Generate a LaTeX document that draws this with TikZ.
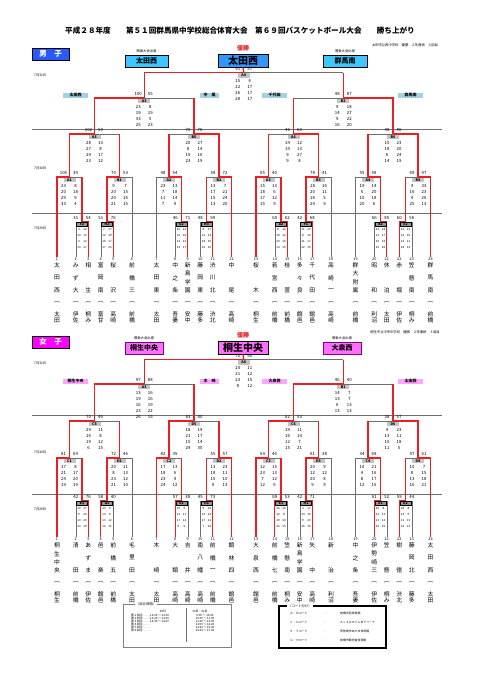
\documentclass[tikz,border=0pt]{standalone}
\usepackage{fontspec}
\setmainfont{Noto Sans CJK JP}
\definecolor{winred}{RGB}{235,30,35}
\definecolor{lgray}{RGB}{110,110,110}
\definecolor{labgray}{RGB}{195,195,195}
\definecolor{rgray}{RGB}{150,150,150}
\definecolor{boyhead}{RGB}{40,90,255}
\definecolor{boykan}{RGB}{60,200,255}
\definecolor{boychamp}{RGB}{50,150,255}
\definecolor{boysemi}{RGB}{160,210,225}
\definecolor{girlhead}{RGB}{255,0,255}
\definecolor{girlkan}{RGB}{255,110,255}
\definecolor{girlsemi}{RGB}{255,165,255}
\tikzset{
  win/.style={draw=winred,line width=1.3pt,line join=miter},
  los/.style={draw=lgray,line width=0.5pt},
  sepl/.style={draw=lgray,line width=0.6pt},
  sc/.style={font=\fontsize{4.3}{4.3}\selectfont,inner sep=0pt},
  tn/.style={font=\fontsize{2.9}{2.9}\selectfont,inner sep=0pt},
  lab/.style={fill=labgray,font=\fontsize{3.6}{3.6}\selectfont\bfseries,inner sep=0pt,minimum width=12pt,minimum height=4.6pt},
  labs/.style={fill=rgray,draw=black,line width=0.3pt,font=\fontsize{3.4}{3.4}\selectfont\bfseries,inner sep=0pt,minimum width=11pt,minimum height=4.6pt},
  nm/.style={font=\fontsize{5.8}{5.8}\selectfont,inner sep=0pt},
  num/.style={font=\fontsize{3.8}{3.8}\selectfont,inner sep=0pt},
  datel/.style={font=\fontsize{3.3}{3.3}\selectfont,inner sep=0pt,anchor=west},
  tiny/.style={font=\fontsize{3.3}{3.3}\selectfont,inner sep=0pt},
  semil/.style={font=\fontsize{4}{4}\selectfont\bfseries,inner sep=0pt,minimum width=25pt,minimum height=5pt},
  kan/.style={draw=black,line width=0.6pt,font=\fontsize{7}{7}\selectfont\bfseries,inner sep=0pt,minimum height=12pt},
  champ/.style={draw=black,line width=0.6pt,font=\fontsize{10}{10}\selectfont\bfseries,inner sep=0pt,minimum width=50pt,minimum height=13pt},
  head/.style={draw=black,line width=0.6pt,text=white,font=\fontsize{7.5}{7.5}\selectfont\bfseries,inner sep=0pt,minimum width=37pt,minimum height=12pt},
}
% lines of one match: #1 xL #2 xR #3 y #4 botL #5 botR #6 loser vertical style #7 winner L/R
\newcommand{\mtch}[7]{%
  \pgfmathsetmacro{\cx}{(#1+#2)/2}%
  \if L#7
    \draw[los] (\cx,#3) -- (#2,#3);
    \draw[#6] (#2,#5) -- (#2,#3);
    \draw[win] (#1,#4) -- (#1,#3) -- (\cx,#3);
  \else
    \draw[los] (#1,#3) -- (\cx,#3);
    \draw[#6] (#1,#4) -- (#1,#3);
    \draw[win] (#2,#5) -- (#2,#3) -- (\cx,#3);
  \fi
}
% scores of a big match: #1 cx #2 y #3 label #4 sL #5 sR #6 rows
\newcommand{\scb}[6]{%
  \node[sc] at (#1-6,#2-3.6) {#4};
  \node[sc] at (#1+6,#2-3.6) {#5};
  \node[lab] at (#1,#2+3) {#3};
  \foreach \a/\b [count=\i] in {#6} {
    \node[sc] at (#1-6,#2+2.5+6*\i) {\a};
    \node[sc] at (#1+6,#2+2.5+6*\i) {\b};
  }
}
% scores of a first-round match
\newcommand{\scs}[6]{%
  \node[sc] at (#1-6.25,#2-4) {#4};
  \node[sc] at (#1+6.25,#2-4) {#5};
  \node[labs] at (#1,#2+2) {#3};
  \foreach \a/\b [count=\i] in {#6} {
    \node[tn] at (#1-3,#2+1.5+6*\i) {\a};
    \node[tn] at (#1+3,#2+1.5+6*\i) {\b};
  }
}
% team column: #1 x #2 y of number #3 number #4 chars (3 slots) #5 region
\newcommand{\team}[5]{%
  \node[num] at (#1,#2) {#3};
  \foreach \c [count=\i] in {#4} {
    \node[nm] at (#1,#2+6+12.3*\i-12.3) {\c};
  }
  \node[nm] at (#1,#2+42.5) {︵};
  \foreach \c [count=\i] in {#5} {
    \node[nm] at (#1,#2+48+6.5*\i) {\c};
  }
}
\newcommand{\teamf}[5]{%
  \node[num] at (#1,#2) {#3};
  \foreach \c [count=\i] in {#4} {
    \node[nm] at (#1,#2+6+8.2*\i-8.2) {\c};
  }
  \node[nm] at (#1,#2+42.5) {︵};
  \foreach \c [count=\i] in {#5} {
    \node[nm] at (#1,#2+48+6.5*\i) {\c};
  }
}
\begin{document}
\begin{tikzpicture}[x=1pt,y=-1pt]
\useasboundingbox (0,0) rectangle (481,680);
\fill[white] (0,0) rectangle (481,680);
% title
\node[font=\fontsize{7.6}{7.6}\selectfont\bfseries,inner sep=0pt] (title) at (240,31) {平成２８年度　　第５１回群馬県中学校総合体育大会　第６９回バスケットボール大会　　勝ち上がり};

%================ BOYS =================
\node[tiny] (bnote) at (405,45) {太田市立西中学校　優勝　２年連続　６回目};
\node[head,fill=boyhead] (bhead) at (50.5,54) {男　子};
\node[tiny] (bk1t) at (146.5,51.5) {関東大会出場};
\node[kan,fill=boykan,minimum width=43pt] (bk1) at (146.5,61) {太田西};
\node[font=\fontsize{6}{6}\selectfont\bfseries,text=winred,inner sep=0pt] (byu) at (243,48) {優勝};
\node[champ,fill=boychamp] (bch) at (243,60.5) {太田西};
\node[tiny] (bk2t) at (345,51.5) {関東大会出場};
\node[kan,fill=boykan,minimum width=44pt] (bk2) at (345,61) {群馬南};
\node[datel] (bd1) at (34,75) {7月31日};
\node[datel] (bd2) at (34,168) {7月30日};
\node[datel] (bd3) at (34,228) {7月29日};
\draw[sepl] (32,129) -- (442,129);
\draw[sepl] (32,213) -- (442,213);
\node[semil,fill=boysemi] (bs1) at (75.5,95) {太田西};
\node[semil,fill=boysemi,minimum width=19pt] (bs2) at (209.5,95) {中　尾};
\node[semil,fill=boysemi] (bs3) at (274.5,95) {千代田};
\node[semil,fill=boysemi] (bs4) at (410.5,95) {群馬南};
% lines
\mtch{75.75}{88.25}{222}{256.5}{256.5}{los}{R}
\mtch{100.75}{113.25}{222}{256.5}{256.5}{los}{R}
\mtch{175.25}{187.75}{222}{256.5}{256.5}{los}{R}
\mtch{200.25}{212.75}{222}{256.5}{256.5}{los}{R}
\mtch{274.75}{287.25}{222}{256.5}{256.5}{los}{R}
\mtch{299.75}{312.25}{222}{256.5}{256.5}{los}{R}
\mtch{374.25}{386.75}{222}{256.5}{256.5}{los}{R}
\mtch{399.25}{411.75}{222}{256.5}{256.5}{los}{L}
\mtch{57}{82}{177}{256.5}{222}{win}{L}
\mtch{107}{132}{177}{222}{256.5}{los}{L}
\mtch{156.5}{181.5}{177}{256.5}{222}{los}{R}
\mtch{206.5}{231.5}{177}{222}{256.5}{win}{R}
\mtch{256}{281}{177}{256.5}{222}{win}{L}
\mtch{306}{331}{177}{222}{256.5}{los}{L}
\mtch{355.5}{380.5}{177}{256.5}{222}{los}{R}
\mtch{405.5}{430.5}{177}{222}{256.5}{win}{R}
\mtch{69.5}{119.5}{134}{177}{177}{win}{L}
\mtch{169}{219}{134}{177}{177}{win}{R}
\mtch{268.5}{318.5}{134}{177}{177}{win}{R}
\mtch{368}{418}{134}{177}{177}{win}{R}
\mtch{94.5}{194}{98}{134}{134}{win}{L}
\mtch{293.5}{393}{98}{134}{134}{win}{R}
\mtch{144.25}{343.25}{72.5}{98}{98}{win}{L}
\draw[win] (243.75,72.5) -- (bch.south);
% scores
\scb{243.75}{72.5}{A4}{91}{57}{15/6,22/17,26/17,28/17}
\scb{144.25}{98}{A3}{100}{55}{23/8,19/19,33/5,25/23}
\scb{343.25}{98}{B2}{48}{87}{9/18,14/27,9/22,16/20}
\scb{94.5}{134}{A5}{102}{50}{28/13,27/8,24/17,23/12}
\scb{194}{134}{B5}{70}{76}{20/27,8/14,19/16,23/19}
\scb{293.5}{134}{A6}{46}{60}{14/12,14/13,9/27,9/8}
\scb{393}{134}{B6}{48}{86}{10/23,18/20,6/24,14/19}
\scb{69.5}{177}{A1}{105}{39}{23/8,20/18,29/9,33/4}
\scb{119.5}{177}{B1}{70}{53}{9/7,20/15,20/16,21/15}
\scb{169}{177}{A2}{48}{54}{23/13,7/18,11/14,7/9}
\scb{219}{177}{B2}{58}{72}{13/7,17/21,15/24,13/20}
\scb{268.5}{177}{A3}{65}{40}{15/13,18/6,17/12,15/9}
\scb{318.5}{177}{B3}{78}{41}{18/16,20/11,16/5,24/9}
\scb{368}{177}{A4}{55}{58}{19/14,6/20,10/18,20/6}
\scb{418}{177}{B4}{69}{97}{4/33,16/23,4/26,25/13}
\scs{82}{222}{F2}{31}{54}{4/12,10/13,4/12,13/17}
\scs{107}{222}{H2}{51}{76}{7/17,12/19,15/17,17/23}
\scs{181.5}{222}{G2}{46}{71}{10/14,12/16,12/24,12/17}
\scs{206.5}{222}{H3}{48}{99}{8/17,12/22,18/30,10/30}
\scs{281}{222}{A2}{60}{62}{8/16,18/12,20/15,14/19}
\scs{306}{222}{F1}{42}{68}{11/20,8/16,11/17,12/15}
\scs{380.5}{222}{B2}{66}{85}{12/18,14/17,20/24,20/26}
\scs{405.5}{222}{E2}{60}{56}{14/14,14/16,14/12,18/14}
% teams
\team{57}{259.5}{1}{太,田,西}{太,田}
\team{75.75}{259.5}{2}{み,ず,大}{伊,佐}
\team{88.25}{259.5}{3}{相,{},生}{桐,み}
\team{100.75}{259.5}{4}{富,岡,南}{富,甘}
\team{113.25}{259.5}{5}{桜,{},沢}{高,崎}
\team{132}{259.5}{6}{前,橋,三}{前,橋}
\team{156.5}{259.5}{7}{太,田,東}{太,田}
\team{175.25}{259.5}{8}{中,之,条}{吾,妻}
\teamf{187.75}{259.5}{9}{新,島,学,園}{安,中}
\team{200.25}{259.5}{10}{藤,岡,東}{藤,多}
\team{212.75}{259.5}{11}{渋,川,北}{渋,北}
\team{231.5}{259.5}{12}{中,{},尾}{高,崎}
\team{256}{259.5}{13}{桜,{},木}{桐,生}
\team{274.75}{259.5}{14}{若,宮,西}{前,橋}
\team{287.25}{259.5}{15}{桂,{},萱}{前,橋}
\team{299.75}{259.5}{16}{多,々,良}{館,邑}
\team{312.25}{259.5}{17}{千,代,田}{館,邑}
\team{331}{259.5}{18}{高,崎,一}{高,崎}
\teamf{355.5}{259.5}{19}{群,大,附,属}{前,橋}
\team{374.25}{259.5}{20}{昭,{},和}{利,沼}
\team{386.75}{259.5}{21}{休,{},泊}{太,田}
\team{399.25}{259.5}{22}{赤,{},堀}{伊,佐}
\team{411.75}{259.5}{23}{笠,懸,南}{桐,み}
\team{430.5}{259.5}{24}{群,馬,南}{前,橋}

%================ GIRLS =================
\node[tiny] (gnote) at (405,332) {桐生市立中央中学校　優勝　２年連続　３回目};
\node[head,fill=girlhead] (ghead) at (50.5,342) {女　子};
\node[tiny] (gk1t) at (144,338.5) {関東大会出場};
\node[kan,fill=girlkan,draw=violet,minimum width=38pt] (gk1) at (144,348) {桐生中央};
\node[font=\fontsize{6}{6}\selectfont\bfseries,text=winred,inner sep=0pt] (gyu) at (243,335) {優勝};
\node[champ,fill=girlkan] (gch) at (243,347.5) {桐生中央};
\node[tiny] (gk2t) at (342,338.5) {関東大会出場};
\node[kan,fill=girlkan,draw=violet,minimum width=38pt] (gk2) at (342,348) {大泉西};
\node[datel] (gd1) at (34,363) {7月31日};
\node[datel] (gd2) at (34,452) {7月30日};
\node[datel] (gd3) at (34,509) {7月29日};
\draw[sepl] (32,415) -- (442,415);
\draw[sepl] (32,494) -- (442,494);
\node[semil,fill=girlsemi] (gs1) at (75.5,381) {桐生中央};
\node[semil,fill=girlsemi,minimum width=19pt] (gs2) at (209.5,381) {木　崎};
\node[semil,fill=girlsemi] (gs3) at (274.5,381) {大泉西};
\node[semil,fill=girlsemi] (gs4) at (410.5,381) {太田西};
\mtch{75.75}{88.25}{501}{536.5}{536.5}{los}{R}
\mtch{100.75}{113.25}{501}{536.5}{536.5}{los}{L}
\mtch{175.25}{187.75}{501}{536.5}{536.5}{los}{L}
\mtch{200.25}{212.75}{501}{536.5}{536.5}{los}{R}
\mtch{274.75}{287.25}{501}{536.5}{536.5}{los}{L}
\mtch{299.75}{312.25}{501}{536.5}{536.5}{los}{R}
\mtch{374.25}{386.75}{501}{536.5}{536.5}{los}{L}
\mtch{399.25}{411.75}{501}{536.5}{536.5}{los}{L}
\mtch{57}{82}{458}{536.5}{501}{win}{L}
\mtch{107}{132}{458}{501}{536.5}{los}{L}
\mtch{156.5}{181.5}{458}{536.5}{501}{win}{L}
\mtch{206.5}{231.5}{458}{501}{536.5}{win}{R}
\mtch{256}{281}{458}{536.5}{501}{win}{L}
\mtch{306}{331}{458}{501}{536.5}{los}{L}
\mtch{355.5}{380.5}{458}{536.5}{501}{los}{R}
\mtch{405.5}{430.5}{458}{501}{536.5}{win}{R}
\mtch{69.5}{119.5}{421}{458}{458}{win}{L}
\mtch{169}{219}{421}{458}{458}{win}{L}
\mtch{268.5}{318.5}{421}{458}{458}{win}{L}
\mtch{368}{418}{421}{458}{458}{win}{R}
\mtch{94.5}{194}{384}{421}{421}{win}{L}
\mtch{293.5}{393}{384}{421}{421}{win}{L}
\mtch{144.25}{343.25}{359.5}{384}{384}{win}{L}
\draw[win] (243.75,359.5) -- (gch.south);
\scb{243.75}{359.5}{A8}{72}{50}{20/11,21/12,23/15,8/12}
\scb{144.25}{384}{A3}{97}{88}{13/16,19/16,16/19,23/22,26/15}
\scb{343.25}{384}{B1}{46}{40}{14/7,13/7,6/13,13/13}
\scb{94.5}{421}{C5}{70}{46}{29/11,16/8,19/12,6/15}
\scb{194}{421}{D5}{83}{80}{18/19,21/17,15/14,29/30}
\scb{293.5}{421}{C6}{62}{53}{19/11,16/14,12/7,15/21}
\scb{393}{421}{D6}{38}{57}{4/23,13/11,10/18,11/5}
\scb{69.5}{458}{C1}{81}{64}{17/8,21/17,24/20,19/19}
\scb{119.5}{458}{D1}{72}{46}{20/11,8/13,23/12,21/10}
\scb{169}{458}{C2}{82}{35}{17/13,18/6,23/4,24/12}
\scb{219}{458}{D2}{55}{57}{13/23,18/11,15/10,9/13}
\scb{268.5}{458}{C3}{54}{46}{12/15,23/13,7/12,12/6}
\scb{318.5}{458}{D3}{61}{38}{20/9,12/12,20/8,9/9}
\scb{368}{458}{C4}{34}{69}{10/21,4/16,8/17,12/15}
\scb{418}{458}{D4}{47}{61}{10/7,8/15,13/18,16/21}
\scs{82}{501}{E1}{42}{76}{10/17,9/20,10/20,13/19}
\scs{107}{501}{A1}{58}{40}{20/9,13/8,13/12,12/11}
\scs{181.5}{501}{G1}{57}{38}{20/9,11/11,17/12,9/6}
\scs{206.5}{501}{H1}{45}{73}{9/19,12/14,17/21,7/19}
\scs{281}{501}{E3}{69}{53}{16/20,12/8,19/10,22/15}
\scs{306}{501}{H1}{42}{71}{4/17,14/19,9/20,15/15}
\scs{380.5}{501}{E1}{61}{52}{20/8,12/13,13/12,16/19}
\scs{405.5}{501}{G2}{59}{44}{18/8,14/9,13/13,14/14}
\teamf{57}{539.5}{1}{桐,生,中,央}{桐,生}
\team{75.75}{539.5}{2}{清,{},田}{前,橋}
\team{88.25}{539.5}{3}{あ,ず,ま}{伊,佐}
\team{100.75}{539.5}{4}{邑,{},楽}{館,邑}
\team{113.25}{539.5}{5}{前,橋,五}{前,橋}
\team{132}{539.5}{6}{毛,里,田}{太,田}
\team{156.5}{539.5}{7}{木,{},崎}{太,田}
\team{175.25}{539.5}{8}{大,{},類}{高,崎}
\team{187.75}{539.5}{9}{吉,{},井}{高,崎}
\team{200.25}{539.5}{10}{南,八,幡}{高,崎}
\team{212.75}{539.5}{11}{前,橋,一}{前,橋}
\team{231.5}{539.5}{12}{館,林,四}{館,邑}
\team{256}{539.5}{13}{大,泉,西}{館,邑}
\team{274.75}{539.5}{14}{前,橋,七}{前,橋}
\team{287.25}{539.5}{15}{笠,懸,南}{桐,み}
\teamf{299.75}{539.5}{16}{新,島,学,園}{安,中}
\team{312.25}{539.5}{17}{矢,{},中}{高,崎}
\team{331}{539.5}{18}{新,{},治}{利,沼}
\team{355.5}{539.5}{19}{中,之,条}{吾,妻}
\teamf{374.25}{539.5}{20}{伊,勢,崎,三}{伊,佐}
\team{386.75}{539.5}{21}{笠,{},懸}{桐,み}
\team{399.25}{539.5}{22}{樹,{},徳}{渋,北}
\team{411.75}{539.5}{23}{藤,岡,北}{藤,多}
\team{430.5}{539.5}{24}{太,田,西}{太,田}

%================ LEGENDS =================
\draw[draw=gray,line width=1pt] (123,604) rectangle (231,647);
\node[tiny,fill=white,inner xsep=1pt] (lt1) at (146,604) {〈試合時間〉};
\draw[lgray,line width=0.4pt] (186,608) -- (186,642);
\node[tn] (lh1) at (163,611) {29日};
\node[tn] (lh2) at (200,611) {30日・31日};
\foreach \t/\u [count=\i] in {{第１試合 …… 12:00 ～ 13:20}/{9:00 ～ 10:20},{第２試合 …… 13:20 ～ 14:40}/{10:20 ～ 11:40},{第３試合 …… 14:40 ～ 16:00}/{11:40 ～ 13:00},{第４試合 ……}/{13:00 ～ 14:20},{第５試合 ……}/{14:20 ～ 15:40},{第６試合 ……}/{15:40 ～ 17:00}} {
  \node[tn,anchor=west] (lr\i) at (131,612+3*\i) {\t};
  \node[tn] (lq\i) at (205,612+3*\i) {\u};
}
\draw[draw=black,line width=1.2pt] (279,606) rectangle (386,648);
\node[tiny,fill=white,inner xsep=1pt] (lt2) at (300,606) {〈コート分け〉};
\foreach \t/\u [count=\i] in {{Ａ・Ｂコート}/{前橋市民体育館},{Ｃ・Ｄコート}/{ＡＬＳＯＫぐんまアリーナ},{Ｅ・Ｆコート}/{伊勢崎市あずま体育館},{Ｇ・Ｈコート}/{前橋市勤労者体育館}} {
  \node[tn,anchor=west] (lc\i) at (290,604+9*\i) {\t};
  \node[tn] (ld\i) at (325,604+9*\i) {：};
  \node[tn,anchor=west] (le\i) at (340,604+9*\i) {\u};
}
\end{tikzpicture}
\end{document}
